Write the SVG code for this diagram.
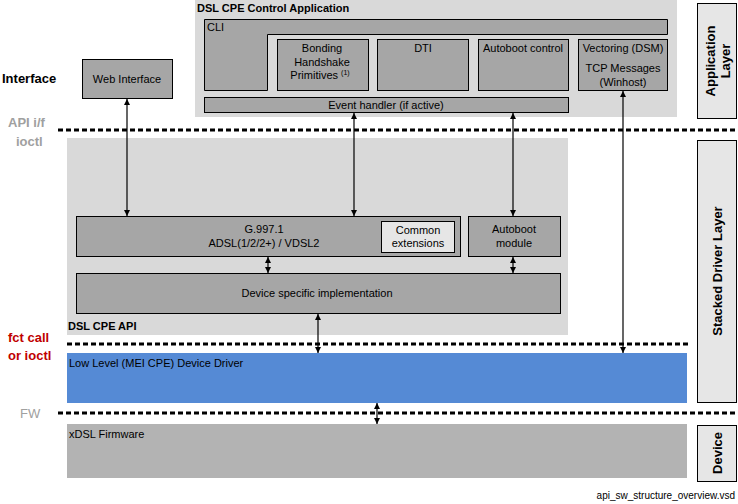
<svg xmlns="http://www.w3.org/2000/svg" width="738" height="504" viewBox="0 0 738 504">
<style>
text{font-family:"Liberation Sans",Arial,sans-serif;fill:#000}
.t{font-size:11px}
.c{text-anchor:middle}
.b{font-weight:bold}
.panel{fill:#d9d9d9}
.box{fill:#a6a6a6;stroke:#000;stroke-width:1}
.lbox{fill:#e6e6e6;stroke:#000;stroke-width:1}
.dash{stroke:#000;stroke-width:3;stroke-dasharray:5,3;fill:none}
.ln{stroke:#000;stroke-width:1.2;fill:none;marker-start:url(#a);marker-end:url(#a)}
.lab{font-size:13px;font-weight:bold}
</style>
<defs>
<marker id="a" viewBox="0 0 10 10" refX="10" refY="5" markerWidth="6" markerHeight="7" markerUnits="userSpaceOnUse" orient="auto-start-reverse">
<path d="M0,0 L10,5 L0,10 z" fill="#000"/>
</marker>
</defs>
<rect width="738" height="504" fill="#fff"/>

<g id="control-app">
<rect class="panel" x="195" y="0" width="482" height="117"/>
<text class="t b" x="197" y="12">DSL CPE Control Application</text>
</g>
<g id="cli">
<path class="box" d="M204.5,19.5 H667.5 V34.5 H267.5 V90.5 H204.5 Z"/>
<text class="t" x="207" y="31">CLI</text>
</g>
<g id="bonding">
<rect class="box" x="277.5" y="39.5" width="91" height="51"/>
<text class="t c" x="322" y="52">Bonding</text>
<text class="t c" x="322" y="66">Handshake</text>
<text class="t c" x="320" y="79">Primitives <tspan font-size="7" dy="-4">(1)</tspan></text>
</g>
<g id="dti">
<rect class="box" x="377.5" y="39.5" width="91" height="51"/>
<text class="t c" x="423" y="52">DTI</text>
</g>
<g id="autoboot-control">
<rect class="box" x="478.5" y="39.5" width="90" height="51"/>
<text class="t c" x="523" y="52">Autoboot control</text>
</g>
<g id="vectoring">
<rect class="box" x="578.5" y="39.5" width="89" height="51"/>
<text class="t c" x="623" y="52">Vectoring (DSM)</text>
<text class="t c" x="623" y="72">TCP Messages</text>
<text class="t c" x="623" y="86">(Winhost)</text>
</g>
<g id="event-handler">
<rect class="box" x="204.5" y="97.5" width="364" height="15"/>
<text class="t c" x="386" y="109">Event handler (if active)</text>
</g>
<g id="web-interface">
<rect class="box" x="82.5" y="59.5" width="90" height="39"/>
<text class="t c" x="127" y="83">Web Interface</text>
</g>

<g id="api-panel">
<rect class="panel" x="67" y="138" width="501" height="197"/>
<text class="t b" x="68" y="330">DSL CPE API</text>
</g>
<g id="g9971">
<rect class="box" x="76.5" y="216.5" width="384" height="40"/>
<text class="t c" x="264" y="233">G.997.1</text>
<text class="t c" x="264" y="247">ADSL(1/2/2+) / VDSL2</text>
</g>
<g id="common-ext">
<rect class="lbox" x="381.5" y="221.5" width="73" height="31"/>
<text class="t c" x="418" y="234">Common</text>
<text class="t c" x="418" y="247">extensions</text>
</g>
<g id="autoboot-module">
<rect class="box" x="468.5" y="216.5" width="92" height="40"/>
<text class="t c" x="514" y="233">Autoboot</text>
<text class="t c" x="514" y="247">module</text>
</g>
<g id="device-specific">
<rect class="box" x="76.5" y="273.5" width="484" height="40"/>
<text class="t c" x="317" y="297">Device specific implementation</text>
</g>

<g id="low-level">
<rect x="67" y="353" width="620" height="50" fill="#558ad5"/>
<text class="t" x="69" y="367">Low Level (MEI CPE) Device Driver</text>
</g>
<g id="firmware">
<rect x="67" y="424" width="620" height="54" fill="#b3b3b3"/>
<text class="t" x="69" y="438">xDSL Firmware</text>
</g>

<g id="layer-app">
<rect class="lbox" x="697.5" y="3.5" width="39" height="115"/>
<text class="lab c" transform="translate(715,61) rotate(-90)">Application</text>
<text class="lab c" transform="translate(730,61) rotate(-90)">Layer</text>
</g>
<g id="layer-driver">
<rect class="lbox" x="697.5" y="140.5" width="39" height="262"/>
<text class="lab c" transform="translate(722,271) rotate(-90)">Stacked Driver Layer</text>
</g>
<g id="layer-device">
<rect class="lbox" x="697.5" y="425.5" width="39" height="56"/>
<text class="lab c" transform="translate(722,453) rotate(-90)">Device</text>
</g>

<g id="side-labels">
<text class="lab" x="2" y="83">Interface</text>
<text class="lab" x="8" y="127" fill="#a0a0a0" style="fill:#a0a0a0">API  i/f</text>
<text class="lab" x="16" y="146" style="fill:#a0a0a0">ioctl</text>
<text class="lab" x="8" y="342" style="fill:#c00000">fct call</text>
<text class="lab" x="8" y="360" style="fill:#c00000">or ioctl</text>
<text class="lab" x="20" y="418" style="fill:#a0a0a0;font-weight:normal">FW</text>
<text x="735" y="499" text-anchor="end" font-size="10">api_sw_structure_overview.vsd</text>
</g>

<g id="connectors">
<path class="dash" d="M58,130 H738"/>
<path class="dash" d="M67,344 H688"/>
<path class="dash" d="M58,413 H738"/>
<path class="ln" d="M127,99 V216"/>
<path class="ln" d="M354,113 V216"/>
<path class="ln" d="M513,113 V216"/>
<path class="ln" d="M623,91 V353"/>
<path class="ln" d="M268,257 V273"/>
<path class="ln" d="M513,257 V273"/>
<path class="ln" d="M318,314 V353"/>
<path class="ln" d="M377,403 V424"/>
</g>
</svg>
